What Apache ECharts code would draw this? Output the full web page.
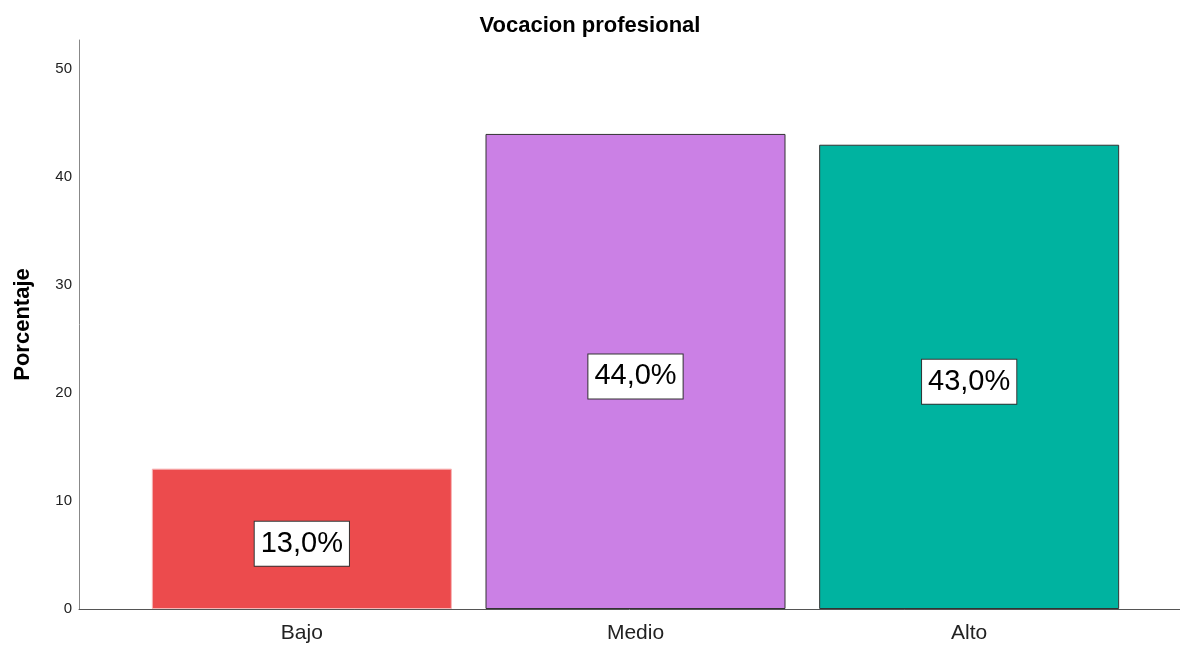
<!DOCTYPE html>
<html>
<head>
<meta charset="utf-8">
<script src="https://cdn.jsdelivr.net/npm/echarts@6/dist/echarts.min.js"></script>
<style>
  html, body { margin: 0; padding: 0; background: #fff; }
  #chart { width: 1180px; height: 645px; }
</style>
</head>
<body>
<div id="chart"></div>
<script>
const categories = ['Bajo', 'Medio', 'Alto']
const percentages = [13.0, 44.0, 43.0]
const barColors = ['#EC4B4D', '#CB80E5', '#00B3A0']
const barBorders = ['#F7B5B6', '#333333', '#333333']
const yTicks = [0, 10, 20, 30, 40, 50]

const font = '"Liberation Sans", Arial, sans-serif'
const yMax = 52.7

const chart = echarts.init(document.getElementById('chart'))
chart.setOption({
  animation: false,
  title: {
    text: 'Vocacion profesional',
    left: 'center',
    top: 10,
    textStyle: { fontFamily: font, fontSize: 22, fontWeight: 'bold', color: '#000' }
  },
  grid: [
    { left: 79, right: 0, top: 40, bottom: 36 },
    { left: 135, right: 44, top: 40, bottom: 36 }
  ],
  xAxis: [
    {
      type: 'value', gridIndex: 0, min: 0, max: 1,
      axisLine: { show: true, lineStyle: { color: '#555', width: 1 } },
      axisTick: { show: false }, axisLabel: { show: false }, splitLine: { show: false }
    },
    {
      type: 'category', gridIndex: 1, data: categories,
      axisLine: { show: false }, axisTick: { show: false }, splitLine: { show: false },
      axisLabel: { fontFamily: font, fontSize: 21, color: '#222', margin: 14 }
    }
  ],
  yAxis: [
    {
      type: 'value', gridIndex: 0, min: 0, max: yMax, interval: 10,
      name: 'Porcentaje', nameLocation: 'middle', nameGap: 45,
      nameTextStyle: { fontFamily: font, fontSize: 22, fontWeight: 'bold', color: '#000' },
      axisLine: { show: true, lineStyle: { color: '#888', width: 1 } },
      axisTick: { show: false }, splitLine: { show: false },
      axisLabel: {
        fontFamily: font, fontSize: 15, color: '#222', margin: 7,
        formatter: v => yTicks.includes(v) ? String(v) : ''
      }
    },
    {
      type: 'value', gridIndex: 1, min: 0, max: yMax, show: false
    }
  ],
  series: [{
    type: 'bar',
    xAxisIndex: 1,
    yAxisIndex: 1,
    barWidth: 300,
    data: percentages.map((v, i) => ({
      value: v,
      itemStyle: { color: barColors[i], borderColor: barBorders[i], borderWidth: 1 }
    })),
    label: {
      show: true,
      position: 'inside',
      offset: [0, 5],
      formatter: p => p.value.toFixed(1).replace('.', ',') + '%',
      fontFamily: font, fontSize: 29, color: '#000',
      backgroundColor: '#fff', borderColor: '#333', borderWidth: 1,
      padding: [9, 6, 6, 6]
    }
  }]
})
</script>
</body>
</html>
